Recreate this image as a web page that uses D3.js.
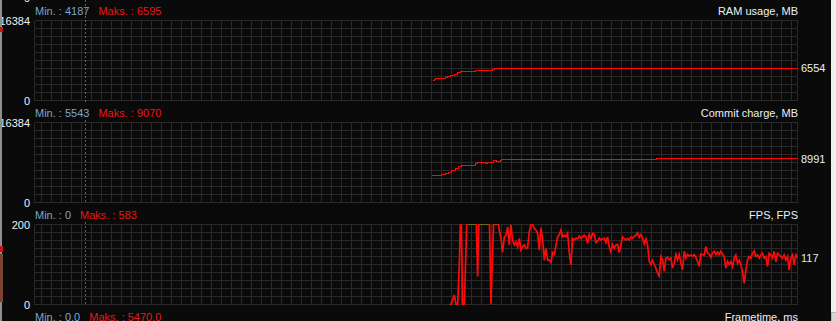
<!DOCTYPE html>
<html lang="en">
<head>
<meta charset="utf-8">
<script src="https://d3js.org/d3.v7.min.js"></script>
<style>
  body { margin: 0; background: #000; overflow: hidden; }
  svg { display: block; }
  .lbl { font-family: "Liberation Sans", Arial, sans-serif; font-size: 11px; }
  .grid line { stroke: #2a2a2a; stroke-width: 1; shape-rendering: crispEdges; }
</style>
</head>
<body>
<svg width="836" height="321"></svg>
<script>

// RAM usage, MB (time in samples, value)
var ramT = [239, 240, 241, 247, 248, 250, 252, 254, 256, 265, 275, 276, 452, 453, 458];
var ramV = [4187, 4301, 4506, 4711, 4915, 5120, 5325, 5666, 5940, 6144, 6349, 6554, 6595, 6554, 6554];

// Commit charge, MB
var commitT = [238.6, 239.6, 244.6, 246.6, 248.6, 250.6, 252.6, 254.6, 256.6, 257.6, 264.6, 266, 270.6, 272, 275.6, 277.6, 279.6, 280.6, 373.6, 458];
var commitV = [5430, 5596, 5728, 5933, 6206, 6547, 6957, 7366, 7639, 7571, 7981, 8186, 7981, 8186, 8527, 8390, 8595, 8800, 8991, 8991];

// FPS, one value per sample starting at fpsStart
var fpsStart = 249;
var fpsV = [
  0, 0, 11, 24, 0, 0, 100, 260, 0, 0, 136, 280, 390, 583, 420, 310, 240, 70, 250, 330,
  290, 260, 300, 270, 230, 0, 128, 260, 240, 215,
  186, 165, 131, 169, 173, 194, 149, 199, 160, 149,
  157, 144, 165, 136, 144, 149, 140, 141, 182, 200,
  200, 190, 186, 178, 136, 191, 165, 111, 140, 111,
  111, 105, 130, 125, 147, 169, 175, 186, 169, 173,
  169, 178, 131, 99, 165, 161, 166, 164, 171, 165,
  169, 173, 169, 153, 175, 165, 178, 175, 155, 158,
  166, 161, 164, 166, 155, 169, 144, 131, 150, 140,
  149, 150, 130, 149, 169, 165, 161, 165, 161, 169,
  166, 170, 173, 179, 168, 175, 166, 151, 164, 149,
  108, 100, 110, 100, 91, 79, 71, 120, 112, 83,
  116, 118, 112, 116, 91, 104, 125, 112, 125, 104,
  87, 133, 116, 125, 121, 123, 121, 125, 118, 108,
  95, 126, 125, 123, 145, 129, 126, 118, 129, 133,
  125, 131, 125, 133, 126, 120, 91, 108, 100,
  107, 95, 115, 124, 103, 111, 99, 82, 53, 86,
  111, 120, 116, 128, 134, 120, 124, 116, 124, 128,
  116, 120, 95, 128, 124, 116, 133, 107, 128, 124,
  120, 116, 124, 111, 120, 86, 116, 124, 99, 124,
  117
];

var titles = ["RAM usage, MB", "Commit charge, MB", "FPS, FPS", "Frametime, ms"];
var minLabels = ["Min. : 4187", "Min. : 5543", "Min. : 0", "Min. : 0.0"];
var maxLabels = ["Maks. : 6595", "Maks. : 9070", "Maks. : 583", "Maks. : 5470.0"];
var axisMax = [16384, 16384, 200];
var markerT = 30.6;

var width = 836, height = 321;
var plotLeft = 34.5, plotRight = 797.5, firstTop = 20, panelStep = 102, plotH = 80;

var svg = d3.select("svg");

svg.append("rect").attr("width", width).attr("height", height).attr("fill", "#0a0a0a");

var x = d3.scaleLinear().domain([0, 458]).range([plotLeft, plotRight]);

var ramData = ramT.map(function (t, i) { return [t, ramV[i]]; });
var commitData = commitT.map(function (t, i) { return [t, commitV[i]]; });
var fpsData = fpsV.map(function (v, i) { return [fpsStart + i, v]; });
var series = [ramData, commitData, fpsData];

// cut-off bottom label of the panel above
svg.append("text").attr("class", "lbl")
  .attr("x", 30).attr("y", firstTop - panelStep + plotH)
  .attr("text-anchor", "end").attr("dominant-baseline", "central")
  .attr("fill", "#eef2fa").text("0");

titles.forEach(function (title, p) {
  var top = firstTop + p * panelStep;

  var minText = svg.append("text").attr("class", "lbl")
    .attr("x", 35).attr("y", top - 5)
    .attr("fill", "#7fa6c9").text(minLabels[p]);
  svg.append("text").attr("class", "lbl")
    .attr("x", 35 + minText.node().getComputedTextLength() + 9).attr("y", top - 5)
    .attr("fill", "#e81818").text(maxLabels[p]);
  svg.append("text").attr("class", "lbl")
    .attr("x", 798).attr("y", top - 5)
    .attr("text-anchor", "end")
    .attr("fill", "#eaf0f8").text(title);

  if (p >= series.length) return;

  var y = d3.scaleLinear().domain([0, axisMax[p]]).range([top + plotH + 0.5, top + 0.5]);

  var g = svg.append("g").attr("class", "grid");
  g.selectAll(".v")
    .data([0].concat(d3.range(4.2, 458, 6), [458]))
    .enter().append("line")
    .attr("x1", function (d) { return x(d); }).attr("x2", function (d) { return x(d); })
    .attr("y1", y(axisMax[p])).attr("y2", y(0));
  g.selectAll(".h")
    .data(d3.range(0, 11).map(function (i) { return axisMax[p] * i / 10; }))
    .enter().append("line")
    .attr("x1", plotLeft).attr("x2", plotRight)
    .attr("y1", function (d) { return y(d); }).attr("y2", function (d) { return y(d); });

  svg.append("line")
    .attr("x1", x(markerT)).attr("x2", x(markerT))
    .attr("y1", p === 0 ? 0 : top - 2).attr("y2", top + plotH + 2)
    .attr("stroke", "#6a6a2a").attr("stroke-dasharray", "2,2");

  svg.append("text").attr("class", "lbl")
    .attr("x", 30).attr("y", y(axisMax[p]))
    .attr("text-anchor", "end").attr("dominant-baseline", "central")
    .attr("fill", "#eef2fa").text(axisMax[p]);
  svg.append("text").attr("class", "lbl")
    .attr("x", 30).attr("y", y(0))
    .attr("text-anchor", "end").attr("dominant-baseline", "central")
    .attr("fill", "#eef2fa").text("0");

  svg.append("clipPath").attr("id", "clip" + p)
    .append("rect")
    .attr("x", plotLeft).attr("y", top)
    .attr("width", plotRight - plotLeft + 0.5).attr("height", plotH + 1);

  var data = series[p];
  var line = d3.line()
    .x(function (d) { return x(d[0]); })
    .y(function (d) { return y(d[1]); })
    .curve(p === 2 ? d3.curveLinear : d3.curveStepAfter);

  if (p === 2) {
    // values above the range run along the top edge
    var over = [];
    for (var i = 0; i < data.length - 1; i++) {
      if (data[i][1] > axisMax[p] && data[i + 1][1] > axisMax[p]) over.push([data[i][0], data[i + 1][0]]);
    }
    svg.selectAll(".over" + p)
      .data(over)
      .enter().append("line")
      .attr("x1", function (d) { return x(d[0]); }).attr("x2", function (d) { return x(d[1]); })
      .attr("y1", y(axisMax[p])).attr("y2", y(axisMax[p]))
      .attr("stroke", "#6e6a1c").attr("stroke-width", 1)
      .attr("shape-rendering", "crispEdges");
  }

  svg.append("path")
    .datum(data)
    .attr("clip-path", "url(#clip" + p + ")")
    .attr("d", line)
    .attr("fill", "none")
    .attr("stroke", "#ff0a0a")
    .attr("stroke-width", p === 2 ? 1.7 : 1)
    .attr("shape-rendering", p === 2 ? null : "crispEdges");

  var last = data[data.length - 1][1];
  svg.append("text").attr("class", "lbl")
    .attr("x", 801).attr("y", y(last))
    .attr("dominant-baseline", "central")
    .attr("fill", p === 2 ? "#dcf2dc" : "#eaf0f8").text(last);
});

// window edges
svg.append("rect").attr("x", 0).attr("y", 0).attr("width", 2).attr("height", height).attr("fill", "#8e8e8e");
svg.append("rect").attr("x", 0).attr("y", 27).attr("width", 3).attr("height", 5).attr("fill", "#c41818");
svg.append("rect").attr("x", 0).attr("y", 246).attr("width", 3).attr("height", 6).attr("fill", "#c41818");
svg.append("rect").attr("x", 0).attr("y", 254).attr("width", 3).attr("height", 48).attr("fill", "#7a4430");
svg.append("rect").attr("x", 831).attr("y", 0).attr("width", 5).attr("height", height).attr("fill", "#f0f0f0");
svg.append("rect").attr("x", 831.5).attr("y", 312.5).attr("width", 5).attr("height", 9).attr("fill", "#d4d4d4").attr("stroke", "#b8b8b8");

</script>
</body>
</html>
